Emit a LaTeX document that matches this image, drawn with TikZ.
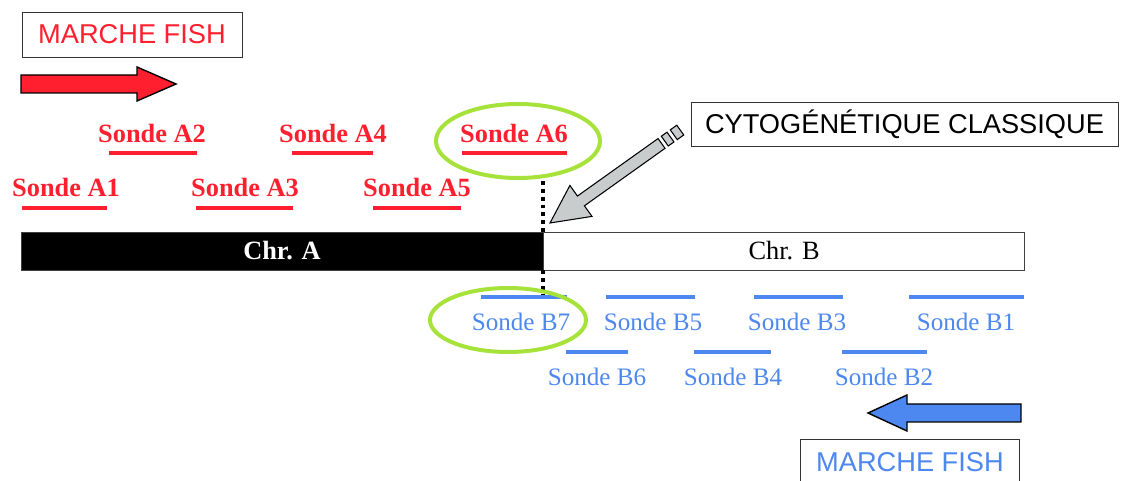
\documentclass[tikz,border=0pt]{standalone}
\usepackage{fontspec}
\setmainfont{Liberation Serif}
\setsansfont{Liberation Sans}
\usetikzlibrary{positioning}
\definecolor{fishred}{HTML}{FF1F2E}
\definecolor{fishblue}{HTML}{4D88F0}
\definecolor{ringgreen}{HTML}{A6E23A}
\definecolor{arrowgray}{HTML}{C8CCCC}

\begin{document}
\begin{tikzpicture}[
  x=0.02cm, y=0.02cm,
  titlebox/.style={draw=black!80, fill=white, minimum height=0.9cm, inner sep=0pt,
    font=\sffamily\fontsize{15.5}{18}\selectfont},
  redprobe/.style={text=fishred, inner sep=0pt, font=\bfseries\fontsize{15}{18}\selectfont},
  blueprobe/.style={text=fishblue, inner sep=0pt, font=\fontsize{14.3}{16}\selectfont},
  redline/.style={draw=fishred, line width=0.08cm},
  blueline/.style={draw=fishblue, line width=0.08cm},
  ring/.style={draw=ringgreen, line width=0.08cm},
  chrom/.style={draw=black!75, minimum height=0.76cm, inner sep=0pt,
    font=\fontsize{15}{18}\selectfont},
  junction/.style={line width=2.2pt, dash pattern=on 2.2pt off 2.2pt},
  blockarrow/.style={draw=black, line width=0.8pt}
]
  \useasboundingbox (0,0) rectangle (1122,480);
  \clip (0,0) rectangle (1122,480);

  % labels
  \node[titlebox, text=fishred, minimum width=4.4cm] (fishA) at (132,445.5) {MARCHE FISH};
  \node[titlebox, minimum width=8.54cm, minimum height=0.88cm] (cyto) at (904.5,356) {CYTOGÉNÉTIQUE CLASSIQUE};
  \node[titlebox, text=fishblue, minimum width=4.38cm] (fishB) at (910,18) {MARCHE FISH};

  % direction arrows
  \filldraw[blockarrow, fill=fishred] (21,387) -- (137,387) -- (137,379) -- (176,396)
    -- (137,413) -- (137,405) -- (21,405) -- cycle;
  \filldraw[blockarrow, fill=fishblue] (1021,58) -- (907,58) -- (907,49) -- (868,67)
    -- (907,85) -- (907,76) -- (1021,76) -- cycle;

  % chromosomes
  \node[chrom, fill=black, text=white, font=\bfseries\fontsize{15}{18}\selectfont,
    minimum width=10.44cm] (chrA) at (282,229) {Chr. A};
  \node[chrom, fill=white, minimum width=9.62cm, right=0pt of chrA.east, anchor=west] (chrB) {Chr. B};
  \coordinate (brk) at (chrA.north east);
  \draw[junction] (brk) -- ++(0,52);
  \draw[junction] (chrA.south east) -- ++(0,-25);

  % probes A
  \node[redprobe] (sA2) at (152,347) {Sonde A2};
  \node[redprobe] (sA4) at (333,347) {Sonde A4};
  \node[redprobe] (sA6) at (514,347) {Sonde A6};
  \node[redprobe] (sA1) at (66,293) {Sonde A1};
  \node[redprobe] (sA3) at (245,293) {Sonde A3};
  \node[redprobe] (sA5) at (417,293) {Sonde A5};
  \draw[redline] (109,327) -- (197,327);
  \draw[redline] (292,327) -- (373,327);
  \draw[redline] (462,327) -- (567,327);
  \draw[redline] (22,272) -- (107,272);
  \draw[redline] (196,272) -- (293,272);
  \draw[redline] (373,272) -- (461,272);

  % probes B
  \node[blueprobe] (sB7) at (521,158) {Sonde B7};
  \node[blueprobe] (sB5) at (653,158) {Sonde B5};
  \node[blueprobe] (sB3) at (797,158) {Sonde B3};
  \node[blueprobe] (sB1) at (966,158) {Sonde B1};
  \node[blueprobe] (sB6) at (597,103) {Sonde B6};
  \node[blueprobe] (sB4) at (733,103) {Sonde B4};
  \node[blueprobe] (sB2) at (884,103) {Sonde B2};
  \draw[blueline] (481,183) -- (567,183);
  \draw[blueline] (606,183) -- (695,183);
  \draw[blueline] (754,183) -- (843,183);
  \draw[blueline] (909,183) -- (1024,183);
  \draw[blueline] (566,128) -- (628,128);
  \draw[blueline] (694,128) -- (771,128);
  \draw[blueline] (842,128) -- (927,128);

  % highlighted probes
  \draw[ring] (518,339) ellipse [x radius=82, y radius=37];
  \draw[ring] (508,160) ellipse [x radius=78, y radius=32];

  % pointer from cyto label
  \begin{scope}[shift={(550,257)}, rotate=35.5]
    \filldraw[blockarrow, fill=arrowgray, line width=0.6pt] (0,0) -- (38,19) -- (38,6) -- (137,6)
      -- (137,-6) -- (38,-6) -- (38,-19) -- cycle;
    \filldraw[blockarrow, fill=arrowgray, line width=0.6pt] (141,-6) rectangle (148,6);
    \filldraw[blockarrow, fill=arrowgray, line width=0.6pt] (152,-6) rectangle (160,6);
  \end{scope}
\end{tikzpicture}
\end{document}
